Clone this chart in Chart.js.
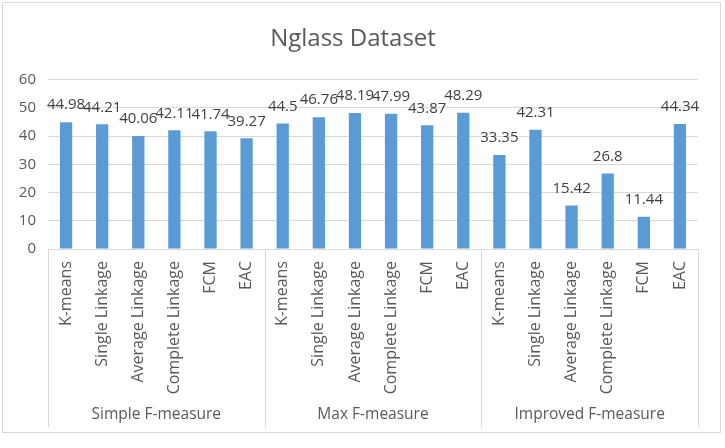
<!DOCTYPE html>
<html>
<head>
<meta charset="utf-8">
<script src="https://cdn.jsdelivr.net/npm/chart.js@4/dist/chart.umd.min.js"></script>
<style>
  html, body { margin: 0; padding: 0; background: #fff; }
  canvas { display: block; }
</style>
</head>
<body>
<canvas id="grafico" width="725" height="448"></canvas>
<script>
// datos
const metodos = ["K-means", "Single Linkage", "Average Linkage", "Complete Linkage", "FCM", "EAC"];
const grupos = ["Simple F-measure", "Max F-measure", "Improved F-measure"];
const simple = [44.98, 44.21, 40.06, 42.11, 41.74, 39.27];
const maximo = [44.5, 46.76, 48.19, 47.99, 43.87, 48.29];
const mejorado = [33.35, 42.31, 15.42, 26.8, 11.44, 44.34];
const ticksY = [0, 10, 20, 30, 40, 50, 60];

const etiquetas = grupos.flatMap(() => metodos);
const valores = [...simple, ...maximo, ...mejorado];

const gris = "#595959";
const lineas = "#d9d9d9";

// etiquetas de valor, separadores y grupos del eje x
const extras = {
  id: "extras",
  afterDatasetsDraw(chart) {
    const { ctx, chartArea } = chart;
    const xs = chart.scales.x;
    const meta = chart.getDatasetMeta(0);

    ctx.save();
    ctx.fillStyle = "#404040";
    ctx.font = "15px 'Open Sans'";
    ctx.textAlign = "center";
    ctx.textBaseline = "middle";
    meta.data.forEach((bar, i) => {
      ctx.fillText(String(valores[i]), bar.x, bar.y - 17);
    });

    // cajas del eje de categorias
    const fondo = 427;
    const bordes = [chartArea.left];
    grupos.forEach((g, gi) => {
      const fin = (gi + 1) * metodos.length;
      if (fin < etiquetas.length) {
        bordes.push((xs.getPixelForValue(fin - 1) + xs.getPixelForValue(fin)) / 2);
      }
    });
    bordes.push(chartArea.right);

    ctx.strokeStyle = lineas;
    ctx.lineWidth = 1;
    bordes.forEach(x => {
      const px = Math.round(x) + 0.5;
      ctx.beginPath();
      ctx.moveTo(px, chartArea.bottom);
      ctx.lineTo(px, fondo);
      ctx.stroke();
    });

    ctx.fillStyle = gris;
    ctx.font = "15.5px 'Open Sans'";
    grupos.forEach((g, gi) => {
      ctx.fillText(g, (bordes[gi] + bordes[gi + 1]) / 2, 415);
    });

    // marco exterior
    ctx.strokeStyle = lineas;
    ctx.strokeRect(2.5, 2.5, 718, 430);
    ctx.restore();
  }
};

new Chart(document.getElementById("grafico"), {
  type: "bar",
  data: {
    labels: etiquetas,
    datasets: [{
      data: valores,
      backgroundColor: "#5b9bd5",
      borderWidth: 0,
      categoryPercentage: 1,
      barPercentage: 0.34
    }]
  },
  options: {
    responsive: false,
    devicePixelRatio: 1,
    animation: false,
    layout: { padding: { left: 8, right: 27, top: 0, bottom: 21 } },
    plugins: {
      legend: { display: false },
      tooltip: { enabled: false },
      title: {
        display: true,
        text: "Nglass Dataset",
        color: gris,
        font: { family: "'Open Sans'", size: 24, weight: "normal" },
        padding: { top: 25, bottom: 26 }
      }
    },
    scales: {
      y: {
        min: 0,
        max: 60,
        afterBuildTicks: s => { s.ticks = ticksY.map(v => ({ value: v })); },
        afterFit: s => { s.width = 40; },
        border: { display: false },
        grid: { color: lineas, drawTicks: false },
        ticks: {
          color: gris,
          padding: 12,
          font: { family: "'Open Sans'", size: 15 }
        }
      },
      x: {
        afterFit: s => { s.height = 178; },
        border: { display: false },
        grid: { display: false, drawTicks: false },
        ticks: {
          color: gris,
          autoSkip: false,
          minRotation: 90,
          maxRotation: 90,
          padding: 12,
          font: { family: "'Open Sans'", size: 16 }
        }
      }
    }
  },
  plugins: [extras]
});
</script>
</body>
</html>
